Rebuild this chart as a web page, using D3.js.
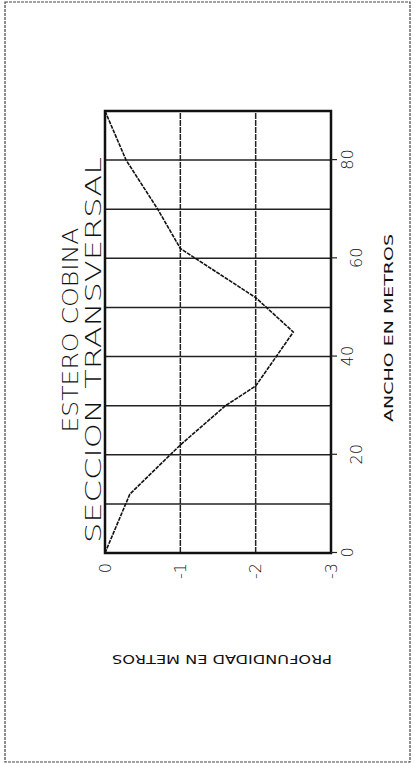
<!DOCTYPE html>
<html>
<head>
<meta charset="utf-8">
<script src="https://cdn.jsdelivr.net/npm/d3@7"></script>
<style>
  body { margin: 0; background: #fff; }
  text { font-family: "DejaVu Sans", "Liberation Sans", sans-serif; fill: #111; }
</style>
</head>
<body>
<div id="chart"></div>
<script>
// seccion transversal - ancho (m) vs profundidad (m)
const anchoM = [0, 12, 22, 30, 34, 45, 52, 62, 70, 80, 90];
const profundidadM = [0, -0.33, -1.0, -1.6, -2.0, -2.5, -2.0, -1.0, -0.7, -0.28, 0];
const tickAncho = [0, 20, 40, 60, 80];
const gridAncho = [10, 20, 30, 40, 50, 60, 70, 80];
const tickProf = [0, -1, -2, -3];
const gridProf = [-1, -2];
const titulo = ["ESTERO COBINA", "SECCION TRANSVERSAL"];

var W = 442, H = 226;

var svg = d3.select("#chart")
    .append("svg")
    .attr("width", 415)
    .attr("height", 766);

// marco de la hoja
svg.append("rect")
    .attr("x", 5).attr("y", 2)
    .attr("width", 405).attr("height", 760)
    .attr("fill", "none")
    .attr("stroke", "#444")
    .attr("stroke-width", 1.2)
    .attr("stroke-dasharray", "3,1");

// el grafico va girado 90 grados
var g = svg.append("g")
    .attr("transform", "translate(105,553) rotate(-90)");

var x = d3.scaleLinear().domain([0, 90]).range([0, W]);
var y = d3.scaleLinear().domain([0, -3]).range([0, H]);

g.selectAll(".gx")
    .data(gridAncho)
    .enter().append("line")
    .attr("class", "gx")
    .attr("x1", d => x(d)).attr("x2", d => x(d))
    .attr("y1", 0).attr("y2", H)
    .attr("stroke", "#222")
    .attr("stroke-width", 1.5);

g.selectAll(".gy")
    .data(gridProf)
    .enter().append("line")
    .attr("class", "gy")
    .attr("x1", 0).attr("x2", W)
    .attr("y1", d => y(d)).attr("y2", d => y(d))
    .attr("stroke", "#222")
    .attr("stroke-width", 1.5)
    .attr("stroke-dasharray", "6,1");

g.append("rect")
    .attr("width", W).attr("height", H)
    .attr("fill", "none")
    .attr("stroke", "#111")
    .attr("stroke-width", 2.5);

// eje ancho
var axX = g.append("g")
    .attr("transform", "translate(0," + H + ")")
    .call(d3.axisBottom(x).tickValues(tickAncho).tickSize(6).tickPadding(5).tickFormat(d => d));
axX.select(".domain").remove();
axX.selectAll("line").attr("stroke", "#222").attr("stroke-width", 1.2);
axX.selectAll("text")
    .style("font-size", "16px")
    .style("font-weight", "300")
    .attr("dy", (d, i) => (i % 2 === 1 ? "1.25em" : "0.71em"));

// eje profundidad
var axY = g.append("g")
    .call(d3.axisLeft(y).tickValues(tickProf).tickSize(0).tickPadding(10).tickFormat(d => d.toString()));
axY.select(".domain").remove();
axY.selectAll("text").style("font-size", "16px").style("font-weight", "300");

var line = d3.line()
    .x((d, i) => x(anchoM[i]))
    .y(d => y(d));

g.append("path")
    .datum(profundidadM)
    .attr("d", line)
    .attr("fill", "none")
    .attr("stroke", "#111")
    .attr("stroke-width", 1.6)
    .attr("stroke-dasharray", "4,1");

// titulos
g.append("text")
    .attr("x", 223).attr("y", -27)
    .attr("text-anchor", "middle")
    .attr("textLength", 205)
    .attr("lengthAdjust", "spacingAndGlyphs")
    .style("font-size", "22px")
    .style("font-weight", "200")
    .text(titulo[0]);

g.append("text")
    .attr("x", 203).attr("y", -4)
    .attr("text-anchor", "middle")
    .attr("textLength", 386)
    .attr("lengthAdjust", "spacingAndGlyphs")
    .style("font-size", "22px")
    .style("font-weight", "200")
    .text(titulo[1]);

g.append("text")
    .attr("x", 225).attr("y", 288)
    .attr("text-anchor", "middle")
    .attr("textLength", 188)
    .attr("lengthAdjust", "spacingAndGlyphs")
    .style("font-size", "13px")
    .text("ANCHO EN METROS");

g.append("text")
    .attr("transform", "translate(-102,117) rotate(-90)")
    .attr("text-anchor", "middle")
    .attr("textLength", 220)
    .attr("lengthAdjust", "spacingAndGlyphs")
    .style("font-size", "13px")
    .text("PROFUNDIDAD EN METROS");
</script>
</body>
</html>
